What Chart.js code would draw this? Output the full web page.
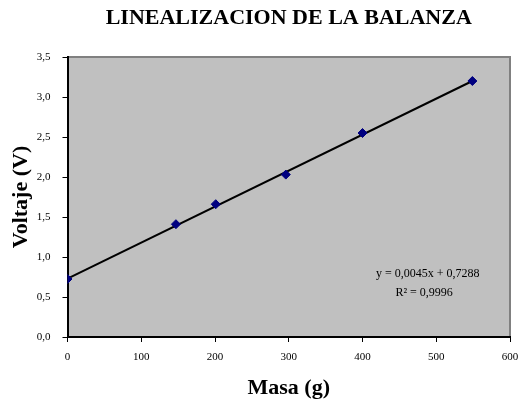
<!DOCTYPE html>
<html>
<head>
<meta charset="utf-8">
<script src="https://cdn.jsdelivr.net/npm/chart.js@4"></script>
<style>
  html, body { margin: 0; padding: 0; background: #fff; }
  #wrap { width: 520px; height: 400px; }
</style>
</head>
<body>
<div id="wrap"><canvas id="c" width="520" height="400"></canvas></div>
<script>
const masa = [0, 147, 201, 296, 400, 549];
const voltaje = [0.725, 1.41, 1.66, 2.03, 2.55, 3.20];
const trendX = [0, 549];
const trendY = [0.7288, 3.2];
const xTicks = [0, 100, 200, 300, 400, 500, 600];
const yTicks = [0, 0.5, 1.0, 1.5, 2.0, 2.5, 3.0, 3.5];
const eqLines = ['y = 0,0045x + 0,7288', 'R² = 0,9996'];

const SERIF = '"Liberation Serif", "Times New Roman", "DejaVu Serif", serif';

const plotBg = {
  id: 'plotBg',
  beforeDraw(chart) {
    const {ctx, chartArea: a} = chart;
    ctx.save();
    ctx.fillStyle = '#C0C0C0';
    ctx.fillRect(a.left, a.top, a.right - a.left, a.bottom - a.top);
    ctx.strokeStyle = '#808080';
    ctx.lineWidth = 2;
    ctx.beginPath();
    ctx.moveTo(a.left, a.top);
    ctx.lineTo(a.right, a.top);
    ctx.lineTo(a.right, a.bottom);
    ctx.stroke();
    ctx.restore();
  },
  afterDatasetsDraw(chart) {
    const {ctx, chartArea: a} = chart;
    ctx.save();
    ctx.fillStyle = '#000';
    ctx.font = '12px ' + SERIF;
    ctx.textAlign = 'center';
    ctx.textBaseline = 'middle';
    const cx = a.left + (a.right - a.left) * 0.806;
    ctx.fillText(eqLines[0], cx + 3.5, a.top + 217);
    ctx.fillText(eqLines[1], cx, a.top + 236);
    ctx.restore();
  }
};

const fmt = v => Number(v).toFixed(1).replace('.', ',');

new Chart(document.getElementById('c'), {
  type: 'scatter',
  data: {
    datasets: [
      {
        label: 'Lineal',
        data: trendX.map((x, i) => ({x, y: trendY[i]})),
        showLine: true,
        borderColor: '#000',
        borderWidth: 2,
        pointRadius: 0,
        order: 2
      },
      {
        label: 'Datos',
        data: masa.map((x, i) => ({x, y: voltaje[i]})),
        pointStyle: 'rectRot',
        pointRadius: 4.5,
        backgroundColor: '#000080',
        borderColor: '#000080',
        borderWidth: 1,
        order: 1
      }
    ]
  },
  options: {
    responsive: false,
    animation: false,
    layout: { padding: { left: 0, right: 0, top: 0, bottom: 0 } },
    plugins: {
      legend: { display: false },
      tooltip: { enabled: false },
      title: {
        display: true,
        text: 'LINEALIZACION DE LA BALANZA',
        fullSize: false,
        color: '#000',
        font: { family: SERIF, size: 22, weight: 'bold', lineHeight: 1.2 },
        padding: { top: 5, bottom: 25.6 }
      }
    },
    scales: {
      x: {
        type: 'linear',
        min: 0, max: 600,
        afterBuildTicks(scale) { scale.ticks = xTicks.map(v => ({value: v})); },
        afterFit(scale) { scale.height = 63; scale.paddingRight = 10; scale.paddingLeft = 0; },
        ticks: {
          color: '#000',
          font: { family: SERIF, size: 11 },
          padding: 9,
          maxRotation: 0,
          callback: v => String(v)
        },
        grid: { drawOnChartArea: false, drawTicks: true, tickLength: 5, tickColor: '#000', tickWidth: 1 },
        border: { display: true, color: '#000', width: 2 },
        title: {
          display: true,
          text: 'Masa (g)',
          color: '#000',
          font: { family: SERIF, size: 22, weight: 'bold', lineHeight: 1.0 },
          padding: { top: 0, bottom: 1 }
        }
      },
      y: {
        type: 'linear',
        min: 0, max: 3.5,
        afterBuildTicks(scale) { scale.ticks = yTicks.map(v => ({value: v})); },
        afterFit(scale) { scale.width = 67.5; },
        ticks: {
          color: '#000',
          font: { family: SERIF, size: 11 },
          padding: 12,
          callback: v => fmt(v)
        },
        grid: { drawOnChartArea: false, drawTicks: true, tickLength: 5, tickColor: '#000', tickWidth: 1 },
        border: { display: true, color: '#000', width: 2 },
        title: {
          display: true,
          text: 'Voltaje (V)',
          color: '#000',
          font: { family: SERIF, size: 22, weight: 'bold', lineHeight: 1.0 },
          padding: { top: 10, bottom: 0 }
        }
      }
    }
  },
  plugins: [plotBg]
});
</script>
</body>
</html>
